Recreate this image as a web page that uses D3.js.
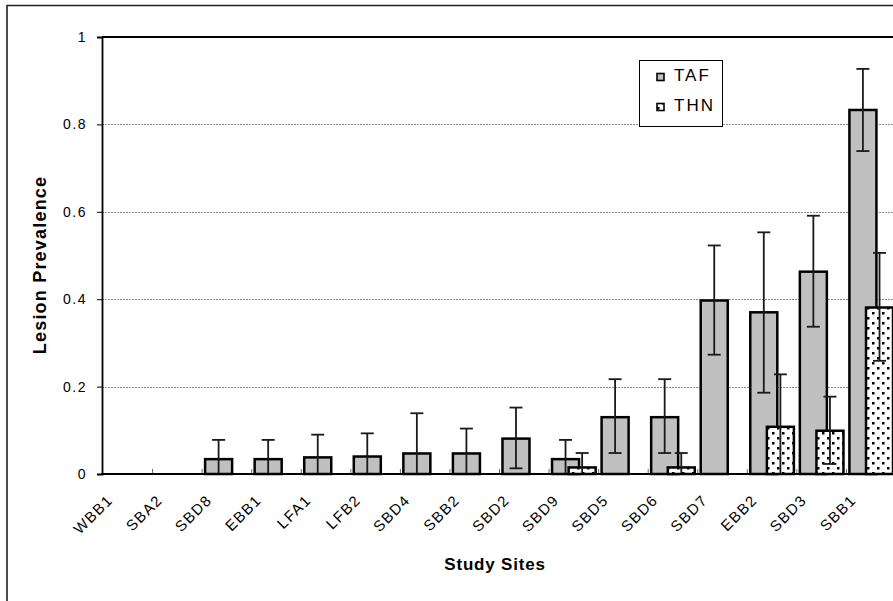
<!DOCTYPE html>
<html>
<head>
<meta charset="utf-8">
<script src="https://cdn.jsdelivr.net/npm/d3@7"></script>
<style>
  html, body { margin: 0; padding: 0; background: #fff; }
  svg { display: block; }
  text { font-family: "Liberation Sans", Arial, sans-serif; fill: #000; }
</style>
</head>
<body>
<svg id="chart" width="893" height="601"></svg>
<script>
// ---------------- data ----------------
const categories = ["WBB1","SBA2","SBD8","EBB1","LFA1","LFB2","SBD4","SBB2","SBD2","SBD9","SBD5","SBD6","SBD7","EBB2","SBD3","SBB1"];
const tafValues = [0, 0, 0.034, 0.034, 0.038, 0.040, 0.047, 0.047, 0.081, 0.034, 0.130, 0.130, 0.397, 0.370, 0.463, 0.833];
const tafUpper  = [null, null, 0.078, 0.078, 0.090, 0.093, 0.139, 0.104, 0.152, 0.078, 0.217, 0.217, 0.523, 0.553, 0.591, 0.927];
const tafLower  = [null, null, 0, 0, 0, 0, 0, 0, 0.013, 0, 0.048, 0.048, 0.273, 0.186, 0.337, 0.739];
const thnValues = [0, 0, 0, 0, 0, 0, 0, 0, 0, 0.015, 0, 0.015, 0, 0.108, 0.099, 0.381];
const thnUpper  = [null, null, null, null, null, null, null, null, null, 0.048, null, 0.048, null, 0.228, 0.177, 0.506];
const thnLower  = [null, null, null, null, null, null, null, null, null, 0, null, 0, null, 0, 0.023, 0.259];
const yTicks = [0, 0.2, 0.4, 0.6, 0.8, 1];
const yTickLabels = ["0", "0.2", "0.4", "0.6", "0.8", "1"];
const seriesNames = ["TAF", "THN"];
const xTitle = "Study Sites";
const yTitle = "Lesion Prevalence";

// ---------------- layout ----------------
const plot = { left: 102, right: 896, top: 37, bottom: 474 };
const svg = d3.select("#chart");

// outer chart border
svg.append("path")
  .attr("d", "M7,601 L7,5.5 L893,5.5")
  .attr("fill", "none").attr("stroke", "#222").attr("stroke-width", 1.6);

// pattern for THN
const defs = svg.append("defs");
const pat = defs.append("pattern")
  .attr("id", "dots").attr("patternUnits", "userSpaceOnUse")
  .attr("width", 10).attr("height", 10);
pat.append("rect").attr("width", 10).attr("height", 10).attr("fill", "#fff");
pat.append("rect").attr("x", 2).attr("y", 2).attr("width", 2.5).attr("height", 2.5).attr("fill", "#000");
pat.append("rect").attr("x", 7).attr("y", 7).attr("width", 2.5).attr("height", 2.5).attr("fill", "#000");

const x = d3.scaleBand().domain(categories).range([plot.left + 1, plot.right]).paddingInner(0).paddingOuter(0);
const y = d3.scaleLinear().domain([0, 1]).range([plot.bottom, plot.top]);
const bw = x.bandwidth();
const barW = bw * 0.545;
const offsets = { TAF: bw * 0.06, THN: bw * 0.395 };

// gridlines
svg.append("g").selectAll("line").data(yTicks.filter(d => d > 0 && d < 1)).join("line")
  .attr("x1", plot.left).attr("x2", 893)
  .attr("y1", d => Math.round(y(d)) + 0.5).attr("y2", d => Math.round(y(d)) + 0.5)
  .attr("stroke", "#8a8a8a").attr("stroke-width", 1).attr("stroke-dasharray", "2,1");

// top plot border
svg.append("line").attr("x1", plot.left).attr("x2", 893)
  .attr("y1", plot.top).attr("y2", plot.top)
  .attr("stroke", "#000").attr("stroke-width", 1.8);

// y axis
const yAxis = d3.axisLeft(y).tickValues(yTicks).tickFormat((d, i) => yTickLabels[i]).tickSize(5).tickPadding(10);
const gy = svg.append("g").attr("transform", `translate(${plot.left},0)`).call(yAxis);
gy.select(".domain").attr("stroke", "#000").attr("stroke-width", 1.8);
gy.selectAll(".tick line").attr("stroke", "#000").attr("stroke-width", 1);
gy.selectAll(".tick text").attr("font-size", 14).attr("letter-spacing", 1.5)
  .attr("font-family", "Liberation Sans, Arial, sans-serif").attr("fill", "#000");

// bars
const seriesData = [
  { name: "TAF", values: tafValues, up: tafUpper, lo: tafLower, fill: "#c0c0c0" },
  { name: "THN", values: thnValues, up: thnUpper, lo: thnLower, fill: "url(#dots)" }
];
seriesData.forEach(s => {
  const rows = categories.map((c, i) => ({ c, v: s.values[i] })).filter(d => d.v > 0);
  svg.append("g").selectAll("rect").data(rows).join("rect")
    .attr("x", d => x(d.c) + offsets[s.name])
    .attr("y", d => y(d.v))
    .attr("width", barW)
    .attr("height", d => y(0) - y(d.v))
    .attr("fill", s.fill)
    .attr("stroke", "#000").attr("stroke-width", 2.5);
});

// error bars
const capW = 13;
seriesData.forEach(s => {
  const rows = categories.map((c, i) => ({ c, up: s.up[i], lo: s.lo[i] })).filter(d => d.up !== null);
  const g = svg.append("g").attr("stroke", "#1a1a1a").attr("stroke-width", 1.8);
  rows.forEach(d => {
    const cx = x(d.c) + offsets[s.name] + barW / 2;
    g.append("line").attr("x1", cx).attr("x2", cx).attr("y1", y(d.up)).attr("y2", y(d.lo));
    g.append("line").attr("x1", cx - capW / 2).attr("x2", cx + capW / 2).attr("y1", y(d.up)).attr("y2", y(d.up));
    g.append("line").attr("x1", cx - capW / 2).attr("x2", cx + capW / 2).attr("y1", y(d.lo)).attr("y2", y(d.lo));
  });
});

// x axis (ticks between categories, inside)
const boundaries = categories.slice(1).map(c => x(c));
svg.append("g").selectAll("line").data(boundaries).join("line")
  .attr("x1", d => d).attr("x2", d => d)
  .attr("y1", plot.bottom).attr("y2", plot.bottom - 5)
  .attr("stroke", "#666").attr("stroke-width", 1);
svg.append("line").attr("x1", plot.left - 1).attr("x2", 893)
  .attr("y1", plot.bottom).attr("y2", plot.bottom)
  .attr("stroke", "#000").attr("stroke-width", 1.8);

// x labels (rotated)
svg.append("g").selectAll("text").data(categories).join("text")
  .attr("transform", d => `translate(${x(d) + bw / 2 - 14},${plot.bottom + 27}) rotate(-45)`)
  .attr("text-anchor", "end")
  .attr("font-size", 15).attr("letter-spacing", 1.4)
  .text(d => d);

// axis titles
svg.append("text")
  .attr("x", 495).attr("y", 570)
  .attr("text-anchor", "middle").attr("font-size", 17).attr("font-weight", "bold").attr("letter-spacing", 0.8)
  .text(xTitle);
svg.append("text")
  .attr("transform", `translate(46,265) rotate(-90)`)
  .attr("text-anchor", "middle").attr("font-size", 18).attr("font-weight", "bold").attr("letter-spacing", 1.2)
  .text(yTitle);

// legend
const lg = svg.append("g");
lg.append("rect").attr("x", 639.5).attr("y", 60.5).attr("width", 83).attr("height", 66)
  .attr("fill", "#fff").attr("stroke", "#000").attr("stroke-width", 1);
const legendFills = ["#c0c0c0", "url(#dots)"];
seriesNames.forEach((n, i) => {
  lg.append("rect").attr("x", 657).attr("y", 73.5 + i * 30).attr("width", 7).attr("height", 7)
    .attr("fill", legendFills[i]).attr("stroke", "#000").attr("stroke-width", 1.6);
  lg.append("text").attr("x", 674).attr("y", 81 + i * 30)
    .attr("font-size", 17).attr("letter-spacing", 2).text(n);
});
</script>
</body>
</html>
